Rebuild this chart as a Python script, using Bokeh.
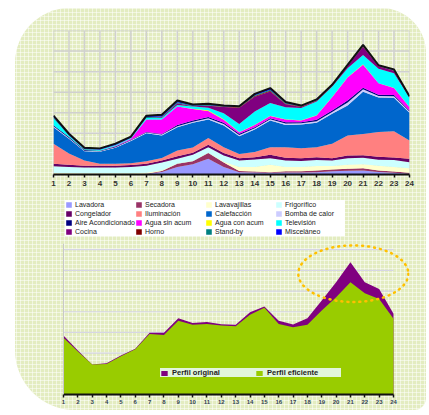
from bokeh.plotting import figure
from bokeh.layouts import column
from bokeh.models import ColumnDataSource, Legend, LegendItem, FixedTicker, Range1d, Span
from bokeh.transform import stack
from bokeh.embed import file_html
from bokeh.resources import INLINE

hours = list(range(1, 25))

# ---- top chart: consumption by end use (stacked) ----
lavadora = [0, 0, 0, 0, 0, 0, .02, .12, .36, .50, .76, .36, .11, .10, .08, .10, .10, .11, .16, .18, .20, .12, .08, .04]
secadora = [0, 0, 0, 0, 0, 0, .02, .05, .16, .14, .28, .22, .06, .05, .03, .06, .06, .08, .08, .10, .10, .08, .06, .04]
lavavajillas = [.07, .07, .06, .06, .06, .06, .05, .04, .02, .02, .02, .04, .19, .21, .36, .20, .20, .22, .17, .19, .20, .22, .22, .22]
frigorifico = [.33, .30, .28, .28, .28, .30, .33, .37, .22, .30, .27, .30, .32, .37, .32, .32, .30, .30, .27, .32, .32, .30, .34, .30]
congelador = [.12, .10, .08, .08, .08, .10, .10, .10, .13, .10, .12, .12, .11, .11, .17, .13, .13, .13, .11, .13, .12, .14, .13, .16]
iluminacion = [.97, .55, .26, .10, .10, .09, .12, .12, .28, .25, .32, .29, .21, .25, .37, .52, .49, .49, .70, .98, 1.03, 1.20, 1.27, .89]
calefaccion = [.81, .72, .45, .58, .78, 1.08, 1.36, 1.10, 1.13, 1.20, .90, 1.05, .86, 1.10, 1.30, 1.08, 1.15, 1.18, 1.46, 1.45, 2.05, 1.68, 1.63, 1.35]
bomba_calor = [.05, .04, .03, .03, .03, .03, .04, .04, .05, .06, .06, .07, .06, .06, .06, .07, .06, .08, .09, .15, .12, .08, .07, .06]
aire_acond = [.05, .04, .03, .03, .03, .03, .03, .03, .06, .06, .06, .06, .06, .05, .05, .06, .05, .07, .07, .10, .08, .06, .06, .05]
agua_sin = [0, 0, 0, 0, .02, .05, .60, .70, .90, .55, .30, .15, .07, .11, .10, .13, .09, .21, .65, 1.12, 1.12, .55, .35, .16]
agua_con = [0, 0, 0, 0, 0, 0, 0, 0, 0, .02, .03, .02, .01, .01, .01, .01, .01, .01, .01, .01, .02, .01, .01, .01]
television = [.33, .06, .03, .04, .04, .03, .08, .08, .07, .10, .12, .30, .40, .64, .63, .59, .59, .67, .50, .44, .45, .70, .70, .45]
cocina = [0, 0, 0, 0, 0, 0, 0, .03, .08, .02, .10, .30, .78, .72, .56, .15, .05, .04, .03, .10, .40, .12, .12, .02]
horno = [0, 0, 0, 0, 0, 0, 0, 0, 0, 0, 0, .02, .03, .03, .03, .02, .02, .01, .01, .02, .03, .01, .01, .01]
standby = [.05, .03, .02, .02, .02, .02, .04, .04, .05, .03, .04, .02, .02, .04, .05, .03, .02, .02, .02, .02, .02, .01, .02, .01]
miscelaneo = [.08, .07, .06, .05, .06, .05, .07, .08, .09, .05, .06, .03, .03, .07, .08, .05, .03, .03, .03, .02, .04, .03, .04, .03]

series_labels = ["Lavadora", "Secadora", "Lavavajillas", "Frigorífico", "Congelador", "Iluminación",
                 "Calefacción", "Bomba de calor", "Aire Acondicionado", "Agua sin acum", "Agua con acum",
                 "Televisión", "Cocina", "Horno", "Stand-by", "Misceláneo"]
series_values = [lavadora, secadora, lavavajillas, frigorifico, congelador, iluminacion, calefaccion,
                 bomba_calor, aire_acond, agua_sin, agua_con, television, cocina, horno, standby, miscelaneo]
series_colors = ["#9999FF", "#993366", "#FFFFCC", "#CCFFFF", "#660066", "#FF8080", "#0066CC", "#CCCCFF",
                 "#000080", "#FF00FF", "#FFFF00", "#00FFFF", "#800080", "#800000", "#008080", "#0000FF"]
top_levels = [0, 1, 2, 3, 4, 5, 6, 7]

# ---- bottom chart: original vs efficient profile ----
perfil_original = [2.85, 2.13, 1.45, 1.51, 1.88, 2.21, 2.98, 2.98, 3.69, 3.46, 3.51, 3.40, 3.37, 3.98, 4.25, 3.57,
                   3.38, 3.69, 4.54, 5.43, 6.39, 5.43, 5.10, 3.90]
perfil_eficiente = [2.74, 2.08, 1.45, 1.48, 1.85, 2.19, 2.93, 2.88, 3.57, 3.37, 3.41, 3.33, 3.30, 3.85, 4.19, 3.41,
                    3.25, 3.37, 4.06, 4.70, 5.43, 4.90, 4.62, 3.66]
grid_levels = [1, 2, 3, 4, 5, 6, 7]

# highlight ellipse around the evening peak (data units)
peak_x, peak_y, peak_w, peak_h = 21.2, 5.84, 7.67, 2.74

FONT = "Liberation Sans"
W = 428
BL, BR = 53, W - 409

# ================= top figure =================
keys = ["s%d" % i for i in range(len(series_values))]
data = {"hour": hours}
for k, v in zip(keys, series_values):
    data[k] = v
src = ColumnDataSource(data)

p1 = figure(width=W, height=196, x_range=Range1d(1, 24), y_range=Range1d(0, 7),
            output_backend="svg", toolbar_location=None,
            min_border_left=BL, min_border_right=BR, min_border_top=30, min_border_bottom=22)
p1.background_fill_color = None
p1.border_fill_color = None
p1.outline_line_color = None
p1.grid.visible = False

# chart grid (drawn beneath the areas)
p1.segment(x0="h", x1="h", y0=0, y1=7, source=ColumnDataSource({"h": hours}),
           line_color="#d0d0d0", line_width=1.5)
p1.segment(x0=1, x1=24, y0="y", y1="y", source=ColumnDataSource({"y": top_levels}),
           line_color="#d0d0d0", line_width=1.5)

p1.varea_stack(keys, x="hour", source=src, color=series_colors)
p1.line("hour", stack(*keys), source=src, line_color="#111111", line_width=2)

p1.xaxis.ticker = FixedTicker(ticks=hours)
p1.xaxis.axis_line_color = "#111111"
p1.xaxis.axis_line_width = 2
p1.xaxis.major_tick_line_color = "#111111"
p1.xaxis.major_tick_line_width = 1.5
p1.xaxis.major_tick_in = 0
p1.xaxis.major_tick_out = 3
p1.xaxis.minor_tick_line_color = None
p1.xaxis.major_label_text_font = FONT
p1.xaxis.major_label_text_font_size = "8px"
p1.xaxis.major_label_text_font_style = "bold"
p1.xaxis.major_label_text_color = "#333333"
p1.xaxis.major_label_standoff = 3
p1.yaxis.visible = False

# ================= legend strip for the top chart =================
pl = figure(width=W, height=44, x_range=Range1d(100, 101), y_range=Range1d(0, 7),
            output_backend="svg", toolbar_location=None,
            min_border_left=BL, min_border_right=BR, min_border_top=0, min_border_bottom=0)
pl.background_fill_color = None
pl.border_fill_color = None
pl.outline_line_color = None
pl.axis.visible = False
pl.grid.visible = False
leg_rends = pl.varea_stack(keys, x="hour", source=src, color=series_colors)

legend1 = Legend(items=[LegendItem(label=l, renderers=[r]) for l, r in zip(series_labels, leg_rends)],
                 location=(12, 4), orientation="horizontal", ncols=4,
                 glyph_width=7, glyph_height=7, label_height=9, label_width=60, label_standoff=3,
                 spacing=0, padding=2, margin=0,
                 label_text_font=FONT, label_text_font_size="7px", label_text_color="#222222",
                 background_fill_color="white", background_fill_alpha=1, border_line_color=None)
pl.add_layout(legend1)

# ================= bottom figure =================
src2 = ColumnDataSource({"hour": hours, "orig": perfil_original, "efic": perfil_eficiente})
grid_src = ColumnDataSource({"y": grid_levels})

x0 = 1 - 10 / (330 / 23)
x1 = 24 + 16 / (330 / 23)
p2 = figure(width=W, height=174, x_range=Range1d(x0, x1), y_range=Range1d(0, 7.3),
            output_backend="svg", toolbar_location=None,
            min_border_left=BL, min_border_right=BR, min_border_top=3, min_border_bottom=20)
p2.background_fill_color = None
p2.border_fill_color = None
p2.outline_line_color = None
p2.grid.visible = False

p2.segment(x0=1, x1=24, y0="y", y1="y", source=grid_src, line_color="#d6d6e4", line_width=1.2)
p2.add_layout(Span(location=1, dimension="height", line_color="#c8c8c8", line_width=1))
r_orig = p2.varea(x="hour", y1=0, y2="orig", source=src2, fill_color="#800080")
r_efic = p2.varea(x="hour", y1=0, y2="efic", source=src2, fill_color="#99CC00")
p2.ellipse(x=[peak_x], y=[peak_y], width=peak_w, height=peak_h, fill_color=None,
           line_color="#FFC000", line_width=2.5, line_dash="1 5", line_cap="round")

p2.xaxis.bounds = (1, 24)
p2.xaxis.ticker = FixedTicker(ticks=hours)
p2.xaxis.axis_line_color = "#111111"
p2.xaxis.axis_line_width = 2
p2.xaxis.major_tick_line_color = "#111111"
p2.xaxis.major_tick_line_width = 1.5
p2.xaxis.major_tick_in = 0
p2.xaxis.major_tick_out = 3
p2.xaxis.minor_tick_line_color = None
p2.xaxis.major_label_text_font = FONT
p2.xaxis.major_label_text_font_size = "6px"
p2.xaxis.major_label_text_font_style = "bold"
p2.xaxis.major_label_text_color = "#334455"
p2.xaxis.major_label_standoff = 2
p2.yaxis.visible = False

legend2 = Legend(items=[LegendItem(label="Perfil original", renderers=[r_orig]),
                        LegendItem(label="Perfil eficiente", renderers=[r_efic])],
                 location=(107, 17), orientation="horizontal",
                 glyph_width=8, glyph_height=6, label_height=9, label_width=74, label_standoff=4,
                 spacing=9, padding=2, margin=0,
                 label_text_font=FONT, label_text_font_size="7.5px", label_text_font_style="bold",
                 label_text_color="#222222",
                 background_fill_color="#e2f6dc", background_fill_alpha=1, border_line_color=None)
p2.add_layout(legend2)

layout = column(p1, pl, p2, spacing=0, styles={
    "background-color": "#e3ecc0",
    "background-image": "linear-gradient(90deg, rgba(255,255,255,0.5) 1px, transparent 1px), "
                        "linear-gradient(rgba(255,255,255,0.5) 1px, transparent 1px)",
    "background-size": "4px 4px",
    "clip-path": "inset(8px 2px 4px 15px round 55px 45px 12px 60px)",
})

open("out.html", "w").write(file_html(layout, INLINE))
